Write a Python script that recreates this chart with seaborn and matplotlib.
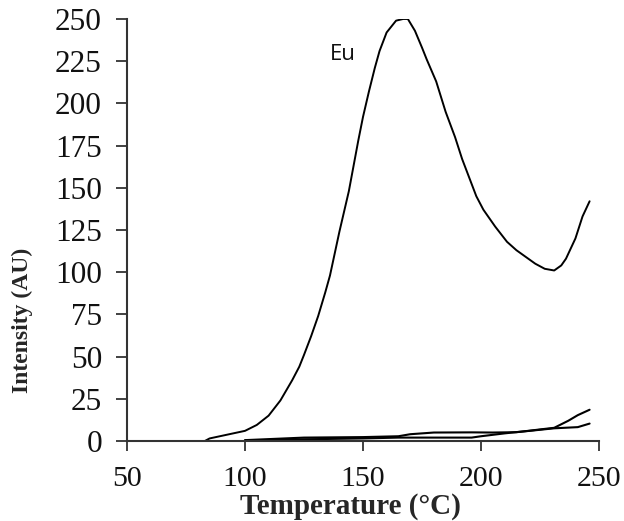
import matplotlib
matplotlib.use("Agg")
import matplotlib.pyplot as plt
import numpy as np
import pandas as pd
import seaborn as sns

# Eu glow curve
eu_temp = [83, 85, 90, 95, 100, 105, 110, 115, 120, 123, 125, 128, 131, 134, 136,
           138, 140, 142, 144, 146, 148, 150, 152.5, 155, 157, 160, 164, 167, 169,
           172, 175, 177, 181, 185, 189, 192, 195, 198, 201, 206, 211, 215, 219,
           223, 227, 231, 234, 236, 240, 243, 246]
eu_int = [0, 1.5, 3, 4.5, 6, 9.5, 15, 24, 36, 44, 51, 62, 74, 88, 98,
          111, 124, 136, 148, 163, 178, 192, 207, 221, 231, 242, 249, 250, 250,
          243, 233, 226, 213, 195, 180, 167, 156, 145, 137, 127, 118, 113, 109,
          105, 102, 101, 104, 108, 120, 133, 142]

# the two weak curves near the baseline
low1_temp = [100, 125, 150, 165, 180, 196, 200, 210, 220, 226, 231, 237, 241, 246]
low1_int = [0.3, 1, 1.5, 2, 2, 2, 2.8, 4.5, 6, 7, 7.8, 12, 15.3, 18.5]

low2_temp = [100, 125, 150, 165, 170, 180, 196, 205, 215, 222, 231, 241, 246]
low2_int = [0.5, 2, 2.3, 2.8, 4, 5, 5.1, 5, 5.2, 6.2, 7.5, 8.2, 10.3]

x_ticks = [50, 100, 150, 200, 250]
y_ticks = list(range(0, 251, 25))

sns.set_style("ticks")
plt.rcParams['font.family'] = ['Liberation Serif', 'DejaVu Serif']

fig = plt.figure(figsize=(6.24, 5.21), dpi=100)
ax = fig.add_axes([0.2035, 0.1536, 0.7565, 0.81])

df_eu = pd.DataFrame({'T': eu_temp, 'I': eu_int})
df_l1 = pd.DataFrame({'T': low1_temp, 'I': low1_int})
df_l2 = pd.DataFrame({'T': low2_temp, 'I': low2_int})

sns.lineplot(data=df_eu, x='T', y='I', color='black', linewidth=1.4, ax=ax)
sns.lineplot(data=df_l1, x='T', y='I', color='black', linewidth=1.5, ax=ax)
sns.lineplot(data=df_l2, x='T', y='I', color='black', linewidth=1.5, ax=ax)

ax.set_xlim(50, 250)
ax.set_ylim(0, 250)
ax.set_xticks(x_ticks)
ax.set_yticks(y_ticks)
ax.tick_params(axis='x', direction='out', length=7, width=1.3, pad=11,
               labelsize=21.5, colors='#333333', labelcolor='#111111')
ax.tick_params(axis='y', direction='out', length=8, width=1.3, pad=10,
               labelsize=22.5, colors='#333333', labelcolor='#111111')
sns.despine(ax=ax)
for s in ['left', 'bottom']:
    ax.spines[s].set_color('#333333')
    ax.spines[s].set_linewidth(1.5)

ax.set_xlabel('')
ax.set_ylabel('')
fig.text(350 / 624, 1 - 507 / 521, 'Temperature (°C)', fontsize=21,
         fontweight='bold', ha='center', va='center')
fig.text(22 / 624, 1 - 320 / 521, 'Intensity (AU)', rotation=90, fontsize=17,
         fontweight='bold', ha='center', va='center')

ax.text(141.5, 229, 'Eu', fontsize=16, family=['Open Sans', 'DejaVu Sans'],
        color='#111111', ha='center', va='center')

fig.savefig('out.png', dpi=100)
